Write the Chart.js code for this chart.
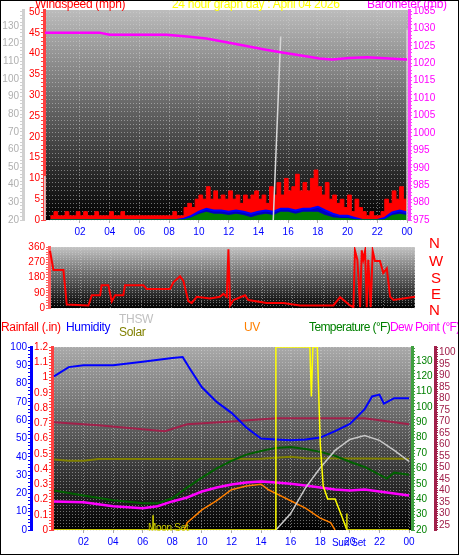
<!DOCTYPE html>
<html><head><meta charset="utf-8">
<script src="https://cdn.jsdelivr.net/npm/chart.js@4/dist/chart.umd.min.js"></script>
<style>
body{margin:0;background:#fff;}
#wrap{position:relative;width:457px;height:553px;border:1px solid #000;overflow:hidden;background:#fff;font-family:"Liberation Sans",Arial,sans-serif;}
canvas{position:absolute;left:-1px;}
.t{position:absolute;white-space:nowrap;font-size:12px;line-height:14px;letter-spacing:-0.3px;}
</style></head><body>
<div id="wrap">
<canvas id="c1" style="top:-1px" width="459" height="245"></canvas>
<canvas id="c2" style="top:239px" width="459" height="75"></canvas>
<canvas id="c3" style="top:339px" width="459" height="215"></canvas>
<span class="t" style="left:34px;top:-4px;color:#f00">Windspeed (mph)</span>
<span class="t" style="left:171px;top:-4px;color:#ff0">24 hour graph day : April 04 2026</span>
<span class="t" style="left:366px;top:-4px;color:#f0f">Barometer (mb)</span>
<span class="t" style="left:428px;top:235px;color:#f00;font-size:15px">N</span>
<span class="t" style="left:428px;top:253px;color:#f00;font-size:15px">W</span>
<span class="t" style="left:430px;top:270px;color:#f00;font-size:15px">S</span>
<span class="t" style="left:430px;top:286px;color:#f00;font-size:15px">E</span>
<span class="t" style="left:428px;top:302px;color:#f00;font-size:15px">N</span>
<span class="t" style="left:0px;top:319px;color:#f00">Rainfall (.in)</span>
<span class="t" style="left:65px;top:319px;color:#00f">Humidity</span>
<span class="t" style="left:118px;top:311px;color:#c0c0c0">THSW</span>
<span class="t" style="left:118px;top:324px;color:#808000">Solar</span>
<span class="t" style="left:243px;top:319px;color:#ff8000">UV</span>
<span class="t" style="left:308px;top:319px;color:#008000;letter-spacing:-0.6px">Temperature (°F)</span>
<span class="t" style="left:389px;top:319px;color:#f0f;letter-spacing:-0.6px">Dew Point (°F)</span>
<span class="t" style="left:147px;top:520px;color:#cc0;font-size:10px">Moon Set</span>
<span class="t" style="left:331px;top:535px;color:#00f;font-size:10px">Sun Set</span>
</div>
<script>
// ---------- data ----------
const baroHours=[-0.36,3.3,4.0,7.8,9.2,10.5,12.3,14.5,15.6,17.2,18.1,18.97,20.1,21.3,24.0];
const baroValues=[1028.8,1028.8,1028.2,1028.2,1027.7,1027.1,1025.7,1023.9,1023.1,1022.0,1021.4,1021.1,1021.5,1021.7,1021.1];
const gustValues=[1,2,1,1,2,1,1,2, 1,2,1,1,2,1,1,1, 2,1,1,2,1,1,1,1, 1,1,1,1,1,1,1,1, 1,2,1,1,
 3,4,3,5,6,5,8,5,7,5,6,5, 7,5,6,4,6,5,6,7,5,6,4,8,
 6,9,6,10,7,8,11,7,9,7,10,12,8,6,9,5, 6,4,5,3,6,2,5,3, 2,1,2,1,1,2, 5,4,7,5,8,5,6]; // every 15 min
const avgWindValues=[0,0,0,0,0,0,0,0,0,0,0,0,0,0,0,0,0,0,
 0.3,1,2,2.7,2.3,2.3,2,2.3,2,1.5,2,2.3,2,2.7,2.7,2.3,2.7,2.7,3.2,2.3,1.5,1,1,0.5,0,0,0,0.5,1.8,2.3,1.8]; // every 30 min
const lowWindValues=[0,0,0,0,0,0,0,0,0,0,0,0,0,0,0,0,0,0,
 0,0.5,1.3,1.8,1.3,1.3,1,1.3,1,0.5,1,1.3,1,1.8,1.8,1.3,1.8,1.8,1.8,1,0.5,0.3,0.3,0,0,0,0,0,1,1.3,1];
const grayHours=[-0.36,-0.36,null,15.0,15.5,null,24.0,24.0];
const grayValues=[20,45,null,20,124,null,20,128];
const dirHours=[0.0,0.22,0.88,1.1,2.53,2.75,3.3,3.4,3.84,4.07,4.29,4.83,4.94,6.15,6.37,7.91,8.13,8.57,8.79,9.12,9.34,9.67,10.55,11.2,11.43,11.65,11.76,11.87,12.09,12.85,13.07,14.28,15.38,16.48,18.68,19.12,19.78,20.0,20.1,20.26,20.44,20.55,20.65,20.77,20.88,20.98,21.14,21.27,21.42,21.75,21.97,22.2,22.42,22.64,24.06];
const dirValues=[337,225,225,20,15,75,75,135,135,39,75,75,135,135,112,112,152,187,160,39,30,66,56,66,84,66,347,15,47,75,47,30,30,15,15,64,15,5,340,285,5,340,285,337,5,285,5,337,277,277,206,234,66,47,66];
const humHours=[0,1,2,4,6,8,8.7,9.2,10,11,12,13,14,15,16,17,18,19,20,21,21.5,22,22.3,23,24];
const humValues=[84,89,90,90,92,94,94.5,88,78,70,64,56,50,49.5,49,49.5,50.5,54,58,66,73,74,69,72,72];
const tempHours=[0,2,4,6,7,8,9,10,11,12,13,14,15,16,17,18,19,20,21,22,22.5,23,24];
const tempValues=[45.7,42.5,39.3,37.4,37.4,40.6,47.6,54,60,65,69,71.4,73.4,74,72.7,70.8,68.2,64.4,61,56,53.4,57.3,56];
const dewHours=[0,2,4,6,7,8,9,10,11,12,13,14,15,16,17,18,19,20,21,22,23,24];
const dewValues=[35.3,34.9,33.2,32.3,33.2,35.3,37,39.6,41.3,42.6,43.5,43.9,43.5,43,42.2,41.3,40.5,40,40.5,39.6,38.7,37.9];
const maroonHours=[0,3,6,7.5,9,12,15,18,21,22,24];
const maroonValues=[69.6,68.3,66.6,65.8,68.8,70,71.4,71.4,71.4,70.5,68.8];
const solarAvgHours=[0,1,2,3,14,16,17,24];
const solarAvgValues=[38.5,37.8,37.8,38.8,39,40,39.2,39];
const uvHours=[8.8,9,10,11,12,13,14,14.5,15,16,17,18,18.7,19];
const uvValues=[0,0.4,1.1,1.6,2.2,2.4,2.5,2.2,2,1.6,1.2,0.65,0.4,0];
const solarHours=[0,15.0,15.0,17.3,17.4,17.5,17.6,17.8,18,18.2,18.5,19,19.5,19.8,24];
const solarValues=[0,0,100,100,73,100,100,100,47,24,17,17,6.5,0,0];
const thswHours=[15,16,17,18,19,20,21,22,23,24];
const thswValues=[0,9,23,34,43.5,49.5,51.6,49,43.5,37.5];
const rainHours=[15,19.3];
const rainValues=[0,0];
const rainRateValue=0.115;
const moonSet=6.7, sunSet=19.8;
const hourTicks=[2,4,6,8,10,12,14,16,18,20,22,24];

// ---------- helpers ----------
const pts=(xs,ys)=>xs.map((x,i)=>({x:x,y:ys[i]}));
const seq=(vals,step)=>vals.map((v,i)=>({x:i*step,y:v}));
const F={family:"Liberation Sans",size:10};
const bg={id:'bg',beforeDraw(c,a,o){const {ctx,chartArea:ca}=c;const g=ctx.createLinearGradient(0,ca.top,0,ca.bottom);g.addColorStop(0,o.top||'#bdbdbd');g.addColorStop(1,'#000');ctx.save();ctx.fillStyle=g;ctx.fillRect(ca.left,ca.top,ca.width,ca.height);ctx.restore();}};
function yAx(pos,min,max,step,labStep,color,width,weight,grid,lineColor){
  return {position:pos,min:min,max:max,weight:weight,
    afterFit(a){a.width=width;},
    afterBuildTicks(a){const t=[];for(let v=Math.ceil(min/step-1e-9)*step;v<=max+1e-9;v+=step){t.push({value:+v.toFixed(3)});}a.ticks=t;},
    ticks:{color:color,font:F,padding:1,autoSkip:false,callback:(v)=>{const r=v/labStep;return Math.abs(r-Math.round(r))<1e-6?String(+v.toFixed(2)):'';}},
    grid:{drawOnChartArea:!!grid,color:grid?'rgba(210,210,210,0.5)':'transparent',tickColor:lineColor||color,tickLength:3,lineWidth:1},
    border:{color:lineColor||color,width:3,dash:grid?[1,2]:undefined}};
}
function xAx(min,max,show){
  return {type:'linear',min:min,max:max,
    afterBuildTicks(a){a.ticks=hourTicks.map(v=>({value:v}));},
    afterFit(a){if(show)a.height=25;},
    ticks:{display:show,color:'#00f',font:F,autoSkip:false,maxRotation:0,callback:(v)=>v===24?'00':String(v).padStart(2,'0')},
    grid:{color:'rgba(210,210,210,0.5)',drawTicks:show,tickLength:3,tickColor:'#aaa'},
    border:{display:false,dash:[1,2]}};
}
const L=(data,color,axis,w,extra)=>Object.assign({data:data,borderColor:color,backgroundColor:color,yAxisID:axis,borderWidth:w||2,pointRadius:0,tension:0,spanGaps:false},extra||{});
const common={responsive:false,animation:false};

// ---------- top chart (first dataset drawn on top) ----------
new Chart(document.getElementById('c1'),{type:'line',
 data:{datasets:[
  L(pts(baroHours,baroValues),'#ff00ff','b',2.5),
  L(pts(grayHours,grayValues),'#d8d8d8','g',1.5),
  L(seq(lowWindValues,0.5),'#008000','w',1.5,{fill:'origin',backgroundColor:'#008000'}),
  L(seq(avgWindValues,0.5),'#0000ff','w',2,{fill:'origin',backgroundColor:'#0000c0'}),
  L(seq(gustValues,0.25),'#ff0000','w',1,{fill:'origin',stepped:true})
 ]},
 options:Object.assign({},common,{layout:{padding:{top:10,left:0,right:0,bottom:0}},
  plugins:{legend:{display:false},tooltip:{enabled:false},bg:{top:'#bcbcbc'}},
  scales:{x:xAx(-0.42,24.13,true),
   g:yAx('left',20,139,2,10,'#b0b0b0',23,2,false,'#d0d0d0'),
   w:yAx('left',0,50.5,1,5,'#ff0000',21,1,true,'#ff4040'),
   b:yAx('right',975,1035.3,1,5,'#ff00ff',50,1,false,'#ff40ff')}}),
 plugins:[bg]});

// ---------- middle chart ----------
new Chart(document.getElementById('c2'),{type:'line',
 data:{datasets:[L(pts(dirHours,dirValues),'#ff0000','d',2)]},
 options:Object.assign({},common,{layout:{padding:{top:6,right:44,bottom:5}},
  plugins:{legend:{display:false},tooltip:{enabled:false},bg:{top:'#c4c4c4'}},
  scales:{x:xAx(-0.07,24.06,false),
   d:yAx('left',0,360,15,90,'#ff0000',49,1,true,'#ff6060')}}),
 plugins:[bg]});

// ---------- bottom chart (first dataset drawn on top) ----------
new Chart(document.getElementById('c3'),{type:'line',
 data:{datasets:[
  L([{x:sunSet,y:0},{x:sunSet,y:9}],'#e0e000','h',1.5),
  L([{x:moonSet,y:0},{x:moonSet,y:8}],'#e0e000','h',1.5),
  L(pts(solarHours,solarValues),'#ffff00','h',1.5),
  L(pts(rainHours,rainValues),'#ff0000','r',3),
  L([{x:-0.13,y:0},{x:24.2,y:0}],'#e0c000','r',2.5),
  L(pts(humHours,humValues),'#0000ff','h',2),
  L(pts(thswHours,thswValues),'#c8c8c8','h',1.5),
  L(pts(uvHours,uvValues),'#ff8000','uv',1.5),
  L(pts(tempHours,tempValues),'#006000','t',2),
  L(pts(dewHours,dewValues),'#ff00ff','dp',2.5),
  L(pts(maroonHours,maroonValues),'#a0204a','dp',2),
  L([{x:-0.13,y:rainRateValue},{x:24.2,y:rainRateValue}],'#000080','r',1.5),
  L(pts(solarAvgHours,solarAvgValues),'#808000','h',2)
 ]},
 options:Object.assign({},common,{layout:{padding:{top:2}},
  plugins:{legend:{display:false},tooltip:{enabled:false},bg:{top:'#aaaaaa'}},
  scales:{x:xAx(-0.13,24.2,true),
   h:yAx('left',0,100,2,10,'#0000ff',31,2,false,'#0000ff'),
   r:yAx('left',0,1.2,0.02,0.1,'#ff0000',21,1,true,'#ff4040'),
   uv:{display:false,min:0,max:10},
   t:yAx('right',20,139,2,10,'#008000',23,1,false,'#40a040'),
   dp:yAx('right',22.9,102.3,1,5,'#a0204a',24,2,false,'#a0204a')}}),
 plugins:[bg]});
</script>
</body></html>
